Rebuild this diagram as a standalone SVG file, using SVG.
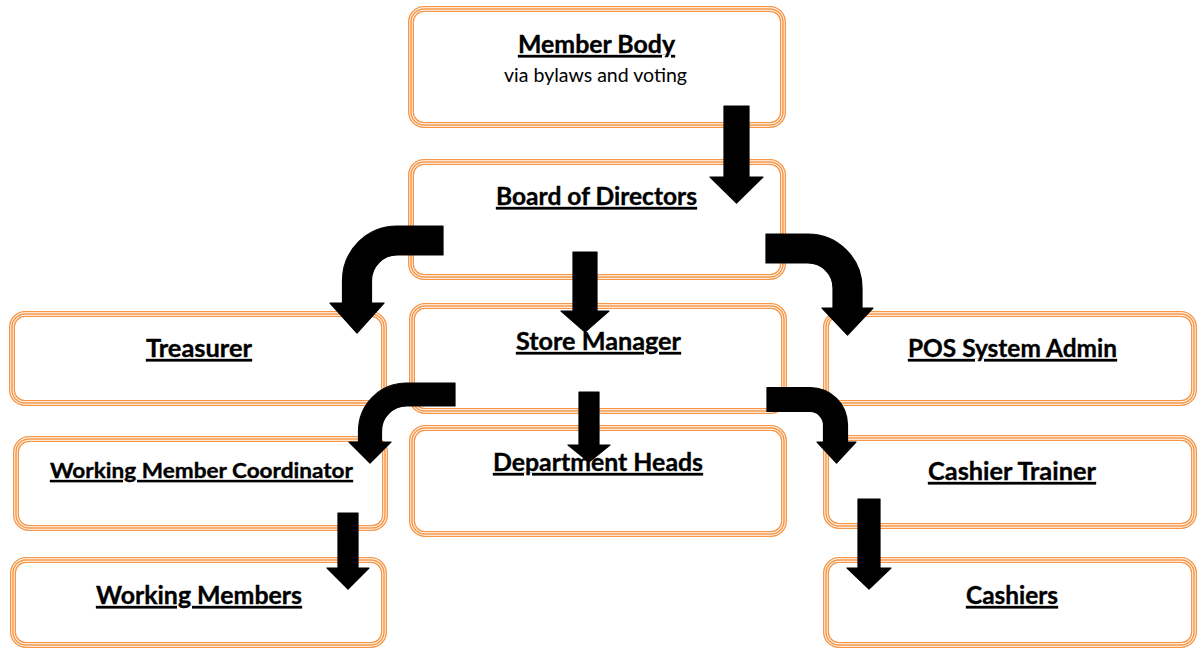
<svg xmlns="http://www.w3.org/2000/svg" width="1197" height="649" viewBox="0 0 1197 649">
  <style>
    .o{fill:#fff;stroke:#F79646;stroke-width:6}
    .w{fill:none;stroke:#fff;stroke-width:3.3}
    .i{fill:none;stroke:#F79646;stroke-width:1.5}
    .t{font-family:Lato,"Liberation Sans",sans-serif;font-weight:700;font-size:24px;text-decoration:underline;text-anchor:middle;fill:#000;stroke:#000;stroke-width:0.35}
    .s{font-family:Lato,"Liberation Sans",sans-serif;font-weight:400;font-size:18.5px;text-anchor:middle;fill:#000}
    .arr{fill:#000;stroke:#000;stroke-width:1.2;stroke-linejoin:round}
  </style>
  <rect width="1197" height="649" fill="#fff"/>

  <g id="member-body">
    <rect class="o" x="411" y="9" width="372" height="116" rx="13"/>
    <rect class="w" x="411" y="9" width="372" height="116" rx="13"/>
    <rect class="i" x="411" y="9" width="372" height="116" rx="13"/>
    <text class="t" x="596.5" y="53" textLength="157" lengthAdjust="spacingAndGlyphs">Member Body</text>
    <text class="s" x="595.5" y="81.5" textLength="183" lengthAdjust="spacingAndGlyphs">via bylaws and voting</text>
  </g>

  <g id="board-of-directors">
    <rect class="o" x="411" y="162" width="372" height="115" rx="13"/>
    <rect class="w" x="411" y="162" width="372" height="115" rx="13"/>
    <rect class="i" x="411" y="162" width="372" height="115" rx="13"/>
    <text class="t" x="596.5" y="205" textLength="201" lengthAdjust="spacingAndGlyphs">Board of Directors</text>
  </g>

  <g id="treasurer">
    <rect class="o" x="12" y="314" width="372" height="89" rx="13"/>
    <rect class="w" x="12" y="314" width="372" height="89" rx="13"/>
    <rect class="i" x="12" y="314" width="372" height="89" rx="13"/>
    <text class="t" x="199" y="357" textLength="106" lengthAdjust="spacingAndGlyphs">Treasurer</text>
  </g>

  <g id="store-manager">
    <rect class="o" x="412" y="306" width="372" height="105" rx="13"/>
    <rect class="w" x="412" y="306" width="372" height="105" rx="13"/>
    <rect class="i" x="412" y="306" width="372" height="105" rx="13"/>
    <text class="t" x="598.5" y="350" textLength="165" lengthAdjust="spacingAndGlyphs">Store Manager</text>
  </g>

  <g id="pos-system-admin">
    <rect class="o" x="826" y="314" width="368" height="89" rx="13"/>
    <rect class="w" x="826" y="314" width="368" height="89" rx="13"/>
    <rect class="i" x="826" y="314" width="368" height="89" rx="13"/>
    <text class="t" x="1012.5" y="357" textLength="209" lengthAdjust="spacingAndGlyphs">POS System Admin</text>
  </g>

  <g id="working-member-coordinator">
    <rect class="o" x="16" y="439" width="369" height="89" rx="13"/>
    <rect class="w" x="16" y="439" width="369" height="89" rx="13"/>
    <rect class="i" x="16" y="439" width="369" height="89" rx="13"/>
    <text class="t" x="201.5" y="478" style="font-size:21px" textLength="303" lengthAdjust="spacingAndGlyphs">Working Member Coordinator</text>
  </g>

  <g id="department-heads">
    <rect class="o" x="412" y="428" width="372" height="106" rx="13"/>
    <rect class="w" x="412" y="428" width="372" height="106" rx="13"/>
    <rect class="i" x="412" y="428" width="372" height="106" rx="13"/>
    <text class="t" x="598" y="471" textLength="210" lengthAdjust="spacingAndGlyphs">Department Heads</text>
  </g>

  <g id="cashier-trainer">
    <rect class="o" x="826" y="438" width="368" height="88" rx="13"/>
    <rect class="w" x="826" y="438" width="368" height="88" rx="13"/>
    <rect class="i" x="826" y="438" width="368" height="88" rx="13"/>
    <text class="t" x="1012" y="480" textLength="168" lengthAdjust="spacingAndGlyphs">Cashier Trainer</text>
  </g>

  <g id="working-members">
    <rect class="o" x="13" y="560" width="371" height="85" rx="13"/>
    <rect class="w" x="13" y="560" width="371" height="85" rx="13"/>
    <rect class="i" x="13" y="560" width="371" height="85" rx="13"/>
    <text class="t" x="199" y="604" textLength="206" lengthAdjust="spacingAndGlyphs">Working Members</text>
  </g>

  <g id="cashiers">
    <rect class="o" x="826" y="560" width="368" height="85" rx="13"/>
    <rect class="w" x="826" y="560" width="368" height="85" rx="13"/>
    <rect class="i" x="826" y="560" width="368" height="85" rx="13"/>
    <text class="t" x="1012" y="604" textLength="92" lengthAdjust="spacingAndGlyphs">Cashiers</text>
  </g>

  <g id="connectors">
    <!-- straight block arrows -->
    <path class="arr" d="M724,106 H749 V177 H763 L736.5,203 L710,177 H724 Z"/>
    <path class="arr" d="M573,252 H597 V311 H609 L585,332 L561,311 H573 Z"/>
    <path class="arr" d="M579,392 H599 V445 H610 L589,462 L568,445 H579 Z"/>
    <path class="arr" d="M338,513 H358 V568 H369 L348,589 L327,568 H338 Z"/>
    <path class="arr" d="M858,499 H880 V568 H891 L869,589 L847,568 H858 Z"/>
    <!-- bent block arrows -->
    <path class="arr" d="M443,226 H397 A54.5,54.5 0 0 0 342.5,280.5 V303 H330 L357,333 L384,303 H371.5 V280.5 A25.5,25.5 0 0 1 397,255 H443 Z"/>
    <path class="arr" d="M766,234 H808 A54,54 0 0 1 862,288 V308 H873 L847.5,335 L822,308 H833 V288 A25,25 0 0 0 808,263 H766 Z"/>
    <path class="arr" d="M455,383 H406.5 A48,48 0 0 0 358.5,431 V442 H349 L370,463 L391,442 H381.5 V431 A25,25 0 0 1 406.5,406 H455 Z"/>
    <path class="arr" d="M767,387.5 H810 A37.5,37.5 0 0 1 847.5,425 V442 H856 L836.5,463 L817,442 H823.5 V425 A13.5,13.5 0 0 0 810,411.5 H767 Z"/>
  </g>
</svg>
